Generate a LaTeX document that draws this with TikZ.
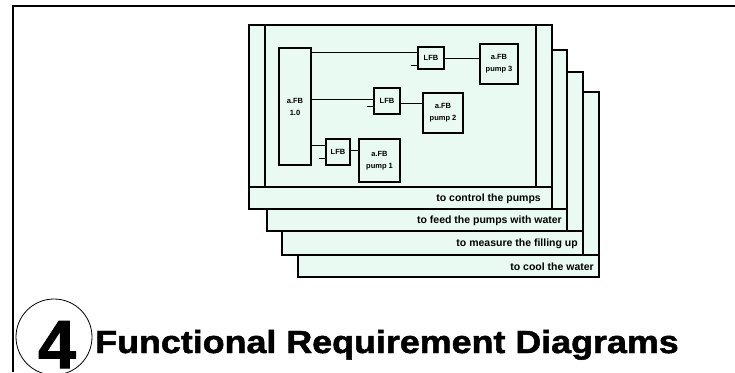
\documentclass[tikz,border=0pt]{standalone}
\usepackage{fontspec}
\setmainfont{Liberation Sans}
\newfontfamily\heavy[FakeBold=1.5]{Liberation Sans Bold}
\definecolor{mint}{RGB}{232,250,242}
\begin{document}
\begin{tikzpicture}[x=1pt,y=-1pt,
  frame/.style={draw=black, line width=1.4pt, fill=mint},
  fb/.style={draw=black, line width=1.1pt, fill=mint, inner sep=0pt, font=\bfseries\fontsize{7.5}{12}\selectfont, align=center},
  wire/.style={line width=1pt},
  lbl/.style={font=\bfseries\fontsize{10.5}{12}\selectfont, anchor=east, inner sep=0pt}]
\useasboundingbox (0,0) rectangle (735,372);
\fill[white] (0,0) rectangle (735,372);
% outer border
\draw[line width=2pt] (13,372) -- (13,6) -- (735,6);
% frame 4
\draw[frame] (298,92) rectangle (599,277);
\draw[frame] (298,255) -- (599,255);
\draw[frame] (583,92) -- (583,255);
\node[lbl] (l4) at (594,267) {to cool the water};
% frame 3
\draw[frame] (282,72) rectangle (583,255);
\draw[frame] (282,231) -- (583,231);
\draw[frame] (567,72) -- (567,231);
\node[lbl] (l3) at (578,244) {to measure the filling up};
% frame 2
\draw[frame] (267,50) rectangle (567,231);
\draw[frame] (267,209) -- (567,209);
\draw[frame] (552,50) -- (552,209);
\node[lbl] (l2) at (562,221) {to feed the pumps with water};
% frame 1
\draw[frame] (249,25) rectangle (552,209);
\draw[frame] (249,187) -- (552,187);
\draw[frame] (265,25) -- (265,187);
\draw[frame] (536,25) -- (536,187);
\node[lbl] (l1) at (541,199) {to control the pumps};
% inner diagram
\node[fb, minimum width=32pt, minimum height=117pt] (big) at (295,106.5) {a.FB\\1.0};
\node[fb, minimum width=26pt, minimum height=22pt] (lfbt) at (431,58) {LFB};
\node[fb, minimum width=38pt, minimum height=40pt] (p3) at (499,64) {a.FB\\pump 3};
\node[fb, minimum width=26pt, minimum height=26pt] (lfbm) at (387,101) {LFB};
\node[fb, minimum width=40pt, minimum height=40pt] (p2) at (443,113) {a.FB\\pump 2};
\node[fb, minimum width=24pt, minimum height=26pt] (lfbb) at (338,152) {LFB};
\node[fb, minimum width=41pt, minimum height=43pt] (p1) at (379.5,160.5) {a.FB\\pump 1};
% wires
\path ([yshift=6pt]lfbt.west) coordinate (a1);
\draw[wire] (a1) -- (a1 -| big.east);
\draw[wire] (lfbt.east) -- (lfbt.east -| p3.west);
\path ([yshift=2pt]lfbm.west) coordinate (a2);
\draw[wire] (a2) -- (a2 -| big.east);
\path ([yshift=-2pt]lfbm.east) coordinate (b2);
\draw[wire] (b2) -- (b2 -| p2.west);
\path ([yshift=7pt]lfbb.west) coordinate (a3);
\draw[wire] (a3) -- (a3 -| big.east);
\path ([yshift=2pt]lfbb.east) coordinate (b3);
\draw[wire] (b3) -- (b3 -| p1.west);
% input stubs
\path ([yshift=-7pt]lfbt.west) coordinate (s1);
\draw[wire] (s1) -- ++(-6,0) coordinate (s1e);
\path ([yshift=-5pt]lfbm.west) coordinate (s2);
\draw[wire] (s2) -- ++(-6,0) coordinate (s2e);
\path ([yshift=-6pt]lfbb.west) coordinate (s3);
\draw[wire] (s3) -- ++(-6,0) coordinate (s3e);
% title
\node[circle, draw, line width=0.8pt, minimum size=76pt, inner sep=0pt] (circ) at (54,337) {};
\node[anchor=base, inner sep=0pt, font=\heavy\fontsize{68}{76}\selectfont] (four) at (57,368) {4};
\node[anchor=base west, inner sep=0pt, xscale=1.12, font=\heavy\fontsize{32}{36}\selectfont] (title) at (95,353) {Functional Requirement Diagrams};
\end{tikzpicture}
\end{document}
